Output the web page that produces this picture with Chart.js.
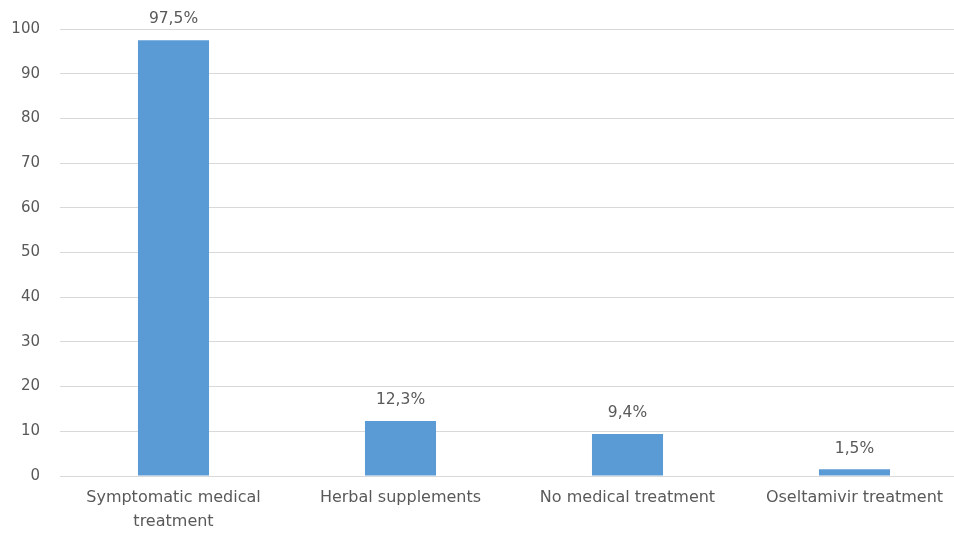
<!DOCTYPE html>
<html><head><meta charset="utf-8">
<script src="https://cdn.jsdelivr.net/npm/chart.js@4"></script>
<style>html,body{margin:0;padding:0;background:#fff}#wrap{width:954px;height:533px;overflow:hidden}</style>
</head><body><div id="wrap"><canvas id="c" width="968" height="533"></canvas></div>
<script>
const categories = [["Symptomatic medical","treatment"],"Herbal supplements","No medical treatment","Oseltamivir treatment"];
const values = [97.5, 12.3, 9.4, 1.5];
const valueLabels = ["97,5%","12,3%","9,4%","1,5%"];
const yTicks = [0,10,20,30,40,50,60,70,80,90,100];

const FONT = "'DejaVu Sans', sans-serif";
const TXT = "#595959";

const labelPlugin = {
  id: 'valLabels',
  afterDatasetsDraw(chart) {
    const ctx = chart.ctx;
    const meta = chart.getDatasetMeta(0);
    ctx.save();
    ctx.font = "15.5px " + FONT;
    ctx.fillStyle = TXT;
    ctx.textAlign = "center";
    ctx.textBaseline = "bottom";
    meta.data.forEach((bar, i) => {
      ctx.fillText(valueLabels[i], bar.x, bar.y - 13);
    });
    ctx.restore();
  }
};

new Chart(document.getElementById('c'), {
  type: 'bar',
  data: {
    labels: categories,
    datasets: [{
      data: values,
      backgroundColor: '#5B9BD5',
      borderWidth: 0,
      categoryPercentage: 1,
      barPercentage: 0.313
    }]
  },
  options: {
    responsive: false,
    animation: false,
    layout: { padding: { top: 23, right: 0, left: 0, bottom: 0 } },
    plugins: { legend: { display: false }, tooltip: { enabled: false } },
    scales: {
      x: {
        afterFit: s => { s.height = 57; },
        grid: { display: false, drawTicks: false },
        border: { display: false },
        ticks: { color: TXT, font: { family: FONT, size: 16, lineHeight: 1.5 }, padding: 10, maxRotation: 0, autoSkip: false }
      },
      y: {
        min: 0, max: 100,
        afterBuildTicks: s => { s.ticks = yTicks.map(v => ({ value: v })); },
        afterFit: s => { s.width = 60; },
        grid: { color: '#d9d9d9', drawTicks: false },
        border: { display: false },
        ticks: { color: TXT, font: { family: FONT, size: 15 }, padding: 20 }
      }
    }
  },
  plugins: [labelPlugin]
});
</script></body></html>
